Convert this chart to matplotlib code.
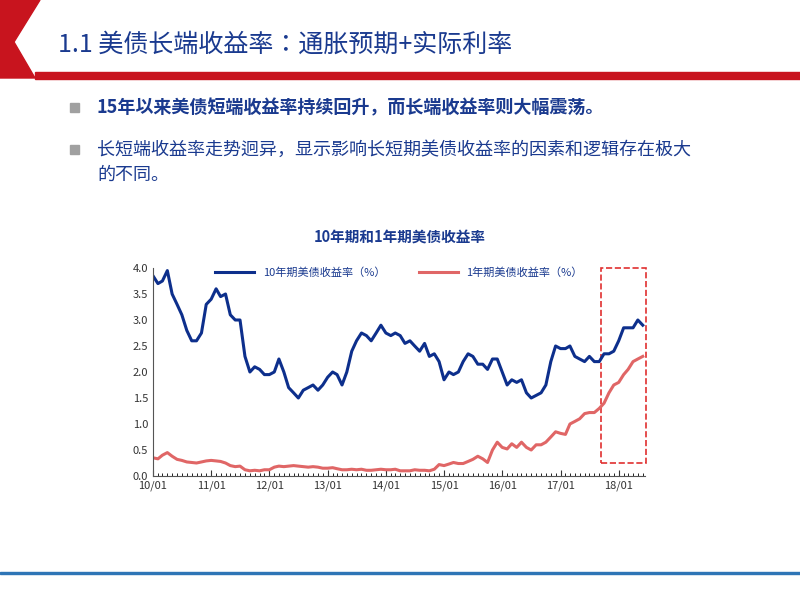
import pandas as pd
import matplotlib.pyplot as plt
import matplotlib.dates as mdates
from matplotlib.patches import Polygon, Rectangle

plt.rcParams['font.family'] = 'sans-serif'
plt.rcParams['font.sans-serif'] = ['Noto Sans CJK JP', 'Noto Sans CJK SC', 'DejaVu Sans']

# monthly data, 2010-01 .. 2018-06
dates = pd.date_range('2010-01-01', periods=102, freq='MS')
y10 = [3.85, 3.7, 3.75, 3.95, 3.5, 3.3, 3.1, 2.8, 2.6, 2.6, 2.75, 3.3,
       3.4, 3.6, 3.45, 3.5, 3.1, 3.0, 3.0, 2.3, 2.0, 2.1, 2.05, 1.95,
       1.95, 2.0, 2.25, 2.0, 1.7, 1.6, 1.5, 1.65, 1.7, 1.75, 1.65, 1.75,
       1.9, 2.0, 1.95, 1.75, 2.0, 2.4, 2.6, 2.75, 2.7, 2.6, 2.75, 2.9,
       2.75, 2.7, 2.75, 2.7, 2.55, 2.6, 2.5, 2.4, 2.55, 2.3, 2.35, 2.2,
       1.85, 2.0, 1.95, 2.0, 2.2, 2.35, 2.3, 2.15, 2.15, 2.05, 2.25, 2.25,
       2.0, 1.75, 1.85, 1.8, 1.85, 1.6, 1.5, 1.55, 1.6, 1.75, 2.2, 2.5,
       2.45, 2.45, 2.5, 2.3, 2.25, 2.2, 2.3, 2.2, 2.2, 2.35, 2.35, 2.4,
       2.6, 2.85, 2.85, 2.85, 3.0, 2.9]
y1 = [0.35, 0.33, 0.4, 0.45, 0.38, 0.32, 0.3, 0.27, 0.26, 0.25, 0.27, 0.29,
      0.3, 0.29, 0.28, 0.25, 0.2, 0.18, 0.19, 0.12, 0.1, 0.11, 0.1, 0.12,
      0.12, 0.17, 0.19, 0.18, 0.19, 0.2, 0.19, 0.18, 0.17, 0.18, 0.17, 0.15,
      0.15, 0.16, 0.14, 0.12, 0.12, 0.13, 0.12, 0.13, 0.11, 0.11, 0.12, 0.13,
      0.12, 0.12, 0.13, 0.1, 0.1, 0.1, 0.12, 0.11, 0.11, 0.1, 0.13, 0.22,
      0.2, 0.23, 0.26, 0.24, 0.24, 0.28, 0.32, 0.38, 0.33, 0.26, 0.5, 0.65,
      0.55, 0.52, 0.62, 0.55, 0.65, 0.55, 0.5, 0.6, 0.6, 0.65, 0.75, 0.85,
      0.82, 0.8, 1.0, 1.05, 1.1, 1.2, 1.22, 1.22, 1.3, 1.4, 1.6, 1.75,
      1.8, 1.95, 2.05, 2.2, 2.25, 2.3]
tick_years = ['2010', '2011', '2012', '2013', '2014', '2015', '2016', '2017', '2018']

blue = '#0d2f8c'
red = '#e06666'
navy = '#1a3a8f'

fig = plt.figure(figsize=(8, 6), dpi=100)
W, H = 800, 600

# slide decoration
bg = fig.add_axes([0, 0, 1, 1])
bg.set_xlim(0, W)
bg.set_ylim(H, 0)
bg.axis('off')
bg.add_patch(Polygon([(0, 0), (40, 0), (14, 42), (35, 78), (0, 78)], color='#c8141e'))
bg.add_patch(Rectangle((35, 72), 765, 7, color='#c8141e'))
bg.text(58, 45, '1.1 美债长端收益率：通胀预期+实际利率', fontsize=18, color=navy, va='center')
bg.add_patch(Rectangle((70, 103), 9, 9, color='#a0a0a0'))
bg.text(97, 108, '15年以来美债短端收益率持续回升，而长端收益率则大幅震荡。', fontsize=13,
        color=navy, va='center', fontweight='bold')
bg.add_patch(Rectangle((70, 145), 9, 9, color='#a0a0a0'))
bg.text(97, 150, '长短端收益率走势迥异，显示影响长短期美债收益率的因素和逻辑存在极大', fontsize=13,
        color=navy, va='center')
bg.text(97, 175, '的不同。', fontsize=13, color=navy, va='center')
bg.add_patch(Rectangle((0, 572), 800, 1.5, color='#2e75b6'))
bg.text(400, 238, '10年期和1年期美债收益率', fontsize=10.5, color=navy, ha='center',
        va='center', fontweight='bold')

# chart
ax = fig.add_axes([153 / W, 1 - 476 / H, 492 / W, 208 / H])
ax.plot(dates, y10, color=blue, lw=2.2, label='10年期美债收益率（%）')
ax.plot(dates, y1, color=red, lw=2.2, label='1年期美债收益率（%）')
ax.set_ylim(0, 4.0)
ax.set_yticks([0, 0.5, 1.0, 1.5, 2.0, 2.5, 3.0, 3.5, 4.0])
ax.set_yticklabels(['%.1f' % v for v in ax.get_yticks()])
ax.set_xlim(pd.Timestamp('2010-01-01'), pd.Timestamp('2018-06-15'))
ticks = [pd.Timestamp(y + '-01-01') for y in tick_years]
ax.set_xticks(ticks)
ax.set_xticklabels([y[2:] + '/01' for y in tick_years])
ax.xaxis.set_minor_locator(mdates.MonthLocator())
ax.tick_params(axis='x', which='minor', length=2, direction='in')
ax.tick_params(axis='x', which='major', length=4, direction='in')
ax.tick_params(axis='y', length=0)
ax.tick_params(labelsize=8, colors='#333333')
for s in ['top', 'right']:
    ax.spines[s].set_visible(False)
ax.spines['left'].set_color('#555555')
ax.spines['bottom'].set_color('#555555')
ax.legend(loc='upper center', bbox_to_anchor=(0.5, 1.05), ncol=2, frameon=False,
          fontsize=8, labelcolor=navy, handlelength=3.5, columnspacing=3)
x0 = mdates.date2num(pd.Timestamp('2017-09-15'))
x1 = mdates.date2num(pd.Timestamp('2018-06-20'))
ax.add_patch(Rectangle((x0, 0.25), x1 - x0, 3.75, fill=False, ec='#e03030',
                       ls='--', lw=1.2, clip_on=False))

fig.savefig('out.png', dpi=100)
